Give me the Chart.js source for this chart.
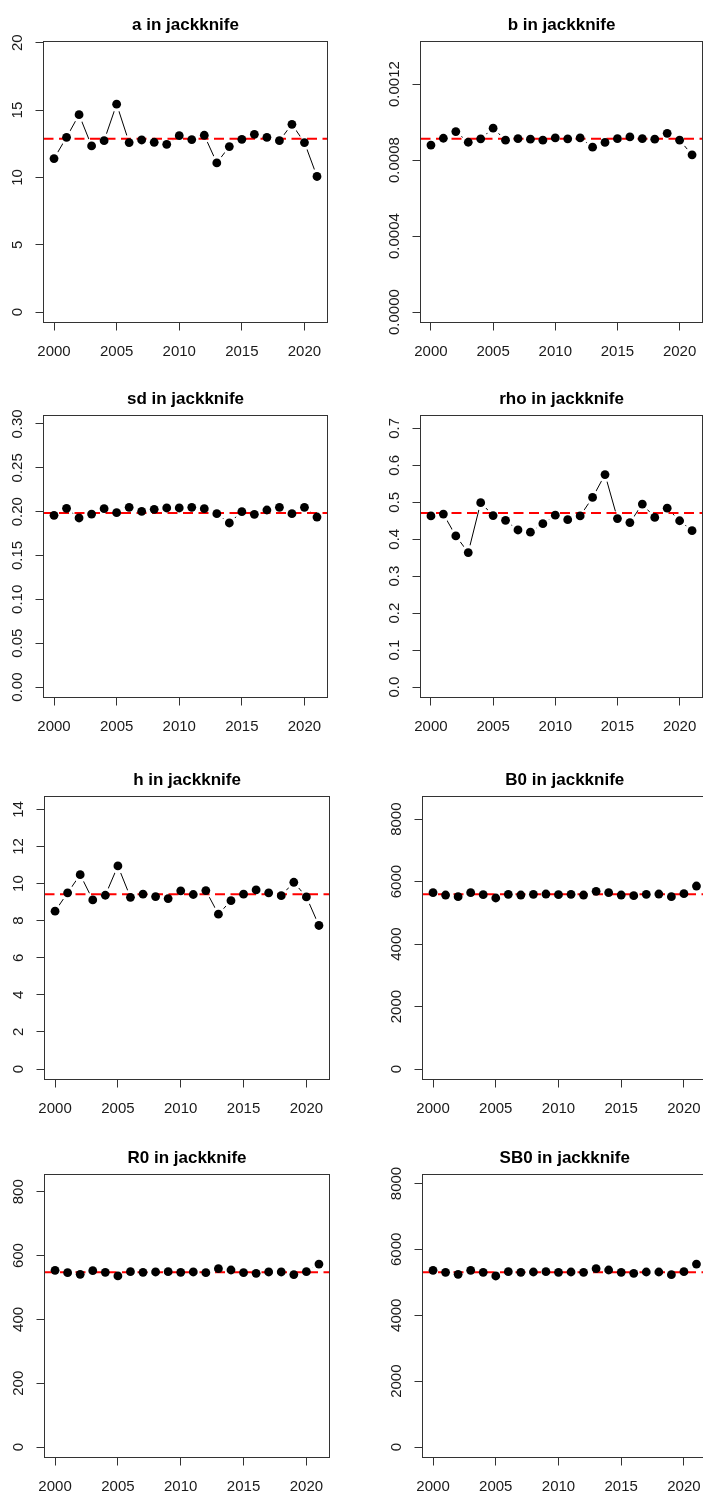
<!DOCTYPE html>
<html>
<head>
<meta charset="utf-8">
<script src="https://cdn.jsdelivr.net/npm/chart.js@4.4.1/dist/chart.umd.min.js"></script>
<style>
html,body{margin:0;padding:0;background:#fff;overflow:hidden;width:703px;height:1497px}
#wrap{position:absolute;left:0;top:0;width:703px;height:1497px;overflow:hidden;background:#fff}
#wrap canvas{position:absolute;display:block}
</style>
</head>
<body>
<div id="wrap"></div>
<script>
// ---------- data ----------
const years = [2000,2001,2002,2003,2004,2005,2006,2007,2008,2009,2010,2011,2012,2013,2014,2015,2016,2017,2018,2019,2020,2021];
const xTicks = [2000,2005,2010,2015,2020];

const aVals = [11.40,12.98,14.66,12.34,12.73,15.44,12.59,12.78,12.61,12.46,13.10,12.81,13.13,11.08,12.29,12.83,13.20,12.98,12.73,13.94,12.59,10.07];
const aRef = 12.88;
const aTicks = [0,5,10,15,20];
const aTickLabels = ['0','5','10','15','20'];

const bVals = [0.000879,0.000915,0.000950,0.000894,0.000912,0.000968,0.000905,0.000913,0.000910,0.000905,0.000917,0.000912,0.000917,0.000868,0.000893,0.000913,0.000922,0.000913,0.000910,0.000941,0.000905,0.000828];
const bRef = 0.000913;
const bTicks = [0,0.0004,0.0008,0.0012];
const bTickLabels = ['0.0000','0.0004','0.0008','0.0012'];

const sdVals = [0.1958,0.2038,0.1928,0.1973,0.2034,0.1989,0.2049,0.2004,0.2027,0.2042,0.2042,0.2049,0.2034,0.1977,0.1871,0.2000,0.1970,0.2019,0.2049,0.1977,0.2049,0.1939];
const sdRef = 0.1985;
const sdTicks = [0,0.05,0.10,0.15,0.20,0.25,0.30];
const sdTickLabels = ['0.00','0.05','0.10','0.15','0.20','0.25','0.30'];

const rhoVals = [0.463,0.468,0.409,0.364,0.499,0.464,0.451,0.425,0.419,0.442,0.465,0.453,0.463,0.513,0.575,0.456,0.445,0.495,0.459,0.484,0.450,0.423];
const rhoRef = 0.471;
const rhoTicks = [0,0.1,0.2,0.3,0.4,0.5,0.6,0.7];
const rhoTickLabels = ['0.0','0.1','0.2','0.3','0.4','0.5','0.6','0.7'];

const hVals = [8.51,9.50,10.48,9.12,9.37,10.95,9.26,9.43,9.30,9.19,9.61,9.41,9.62,8.35,9.08,9.43,9.66,9.50,9.35,10.07,9.28,7.74];
const hRef = 9.42;
const hTicks = [0,2,4,6,8,10,12,14];
const hTickLabels = ['0','2','4','6','8','10','12','14'];

const B0Vals = [5646,5571,5518,5646,5582,5475,5593,5571,5593,5603,5582,5593,5571,5688,5646,5571,5550,5593,5603,5518,5614,5859];
const B0Ref = 5593;
const B0Ticks = [0,2000,4000,6000,8000];
const B0TickLabels = ['0','2000','4000','6000','8000'];

const R0Vals = [553.8,546.5,541.3,552.7,547.5,536.1,549.6,547.5,548.6,549.6,547.5,548.6,546.5,559.0,554.8,546.5,544.4,548.6,548.6,540.3,549.6,573.5];
const R0Ref = 547.5;
const R0Ticks = [0,200,400,600,800];
const R0TickLabels = ['0','200','400','600','800'];

const SB0Vals = [5364,5303,5243,5364,5303,5192,5323,5303,5313,5323,5303,5313,5303,5414,5374,5303,5273,5313,5313,5233,5323,5555];
const SB0Ref = 5303;
const SB0Ticks = [0,2000,4000,6000,8000];
const SB0TickLabels = ['0','2000','4000','6000','8000'];

// ---------- layout (page coordinates of each plot box) ----------
const panels = [
  {title:'a in jackknife',   vals:aVals,   ref:aRef,   ticks:aTicks,   labels:aTickLabels,   box:[43.5,41.5,327.5,322.5],   cx:0},
  {title:'b in jackknife',   vals:bVals,   ref:bRef,   ticks:bTicks,   labels:bTickLabels,   box:[420.5,41.5,702.5,322.5],  cx:360},
  {title:'sd in jackknife',  vals:sdVals,  ref:sdRef,  ticks:sdTicks,  labels:sdTickLabels,  box:[43.5,415.5,327.5,697.5],  cx:0},
  {title:'rho in jackknife', vals:rhoVals, ref:rhoRef, ticks:rhoTicks, labels:rhoTickLabels, box:[420.5,415.5,702.5,697.5], cx:360},
  {title:'h in jackknife',   vals:hVals,   ref:hRef,   ticks:hTicks,   labels:hTickLabels,   box:[44.5,796.5,329.5,1079.5], cx:0},
  {title:'B0 in jackknife',  vals:B0Vals,  ref:B0Ref,  ticks:B0Ticks,  labels:B0TickLabels,  box:[422.5,796.5,707,1079.5],  cx:360},
  {title:'R0 in jackknife',  vals:R0Vals,  ref:R0Ref,  ticks:R0Ticks,  labels:R0TickLabels,  box:[44.5,1174.5,329.5,1457.5],cx:0},
  {title:'SB0 in jackknife', vals:SB0Vals, ref:SB0Ref, ticks:SB0Ticks, labels:SB0TickLabels, box:[422.5,1174.5,707,1457.5], cx:360}
];

const X_MIN = 1999.16, X_MAX = 2021.84;
const FONT = '"Liberation Sans", Arial, Helvetica, sans-serif';
const TOP_AREA = 41.5, BOTTOM_AREA = 45, RIGHT_PAD = 14;

const framePlugin = {
  id: 'frame',
  afterDatasetsDraw(chart) {
    const a = chart.chartArea, ctx = chart.ctx;
    ctx.save();
    ctx.strokeStyle = '#333';
    ctx.lineWidth = 1;
    ctx.strokeRect(a.left, a.top, a.right - a.left, a.bottom - a.top);
    ctx.restore();
  },
  afterDraw(chart, args, opts) {
    const ys = chart.scales.y, ctx = chart.ctx, a = chart.chartArea;
    ctx.save();
    ctx.font = '15px ' + FONT;
    ctx.fillStyle = '#1a1a1a';
    ctx.textAlign = 'center';
    ctx.textBaseline = 'middle';
    ys.ticks.forEach((t, i) => {
      const py = ys.getPixelForValue(t.value);
      ctx.save();
      ctx.translate(a.left - 26, py);
      ctx.rotate(-Math.PI / 2);
      ctx.fillText(opts.labels[i], 0, 0);
      ctx.restore();
    });
    ctx.restore();
  }
};

const wrap = document.getElementById('wrap');

panels.forEach(p => {
  const [L, T, R, B] = p.box;
  const canvasTop = Math.round(T - TOP_AREA);
  const topArea = T - canvasTop;
  const w = Math.ceil(R - p.cx + RIGHT_PAD);
  const rightPad = w - (R - p.cx);
  const h = Math.ceil(B + BOTTOM_AREA - canvasTop);
  const cv = document.createElement('canvas');
  cv.width = w; cv.height = h;
  cv.style.left = p.cx + 'px';
  cv.style.top = canvasTop + 'px';
  cv.style.width = w + 'px';
  cv.style.height = h + 'px';
  wrap.appendChild(cv);

  const pts = years.map((yr, i) => ({x: yr, y: p.vals[i]}));
  const M = 1.5 * p.ref;
  const yMin = -0.04 * M, yMax = 1.04 * M;
  const yAxisW = L - p.cx;
  const xAxisH = (canvasTop + h) - B;

  new Chart(cv, {
    type: 'line',
    data: {
      datasets: [
        {label:'line', data: pts, borderColor:'#000', borderWidth:1, pointRadius:0, showLine:true, order:4, fill:false, tension:0},
        {label:'gap', data: pts, showLine:false, pointRadius:7.5, pointBackgroundColor:'#fff', pointBorderWidth:0, pointBorderColor:'#fff', order:3},
        {label:'ref', data: [{x:X_MIN, y:p.ref},{x:X_MAX, y:p.ref}], borderColor:'#ff0000', borderWidth:2, borderDash:[10,5.5], pointRadius:0, showLine:true, order:2, fill:false},
        {label:'pts', data: pts, showLine:false, pointRadius:4.4, pointBackgroundColor:'#000', pointBorderWidth:0, pointBorderColor:'#000', order:1}
      ]
    },
    options: {
      responsive: false,
      animation: false,
      devicePixelRatio: 1,
      events: [],
      layout: {padding: {left:0, right:rightPad, top:0, bottom:0}},
      plugins: {
        legend: {display:false},
        tooltip: {enabled:false},
        title: {
          display: true, text: p.title, color:'#000', fullSize:false,
          font: {family: FONT, size: 17, weight: 'bold', lineHeight: 1.2},
          padding: {top: topArea - 26.4, bottom: 6}
        },
        frame: {labels: p.labels}
      },
      scales: {
        x: {
          type: 'linear', min: X_MIN, max: X_MAX,
          afterBuildTicks: s => { s.ticks = xTicks.map(v => ({value: v})); },
          afterFit: s => { s.height = xAxisH; },
          grid: {drawOnChartArea:false, drawTicks:true, tickLength:8, color:'#333', lineWidth:1},
          border: {display:false},
          ticks: {autoSkip:false, maxRotation:0, minRotation:0, padding:12, color:'#1a1a1a',
                  font:{family: FONT, size:15}, callback: v => String(v)}
        },
        y: {
          type: 'linear', min: yMin, max: yMax,
          afterBuildTicks: s => { s.ticks = p.ticks.map(v => ({value: v})); },
          afterFit: s => { s.width = yAxisW; },
          grid: {drawOnChartArea:false, drawTicks:true, tickLength:8, color:'#333', lineWidth:1},
          border: {display:false},
          ticks: {display:false}
        }
      }
    },
    plugins: [framePlugin]
  });
});
</script>
</body>
</html>
